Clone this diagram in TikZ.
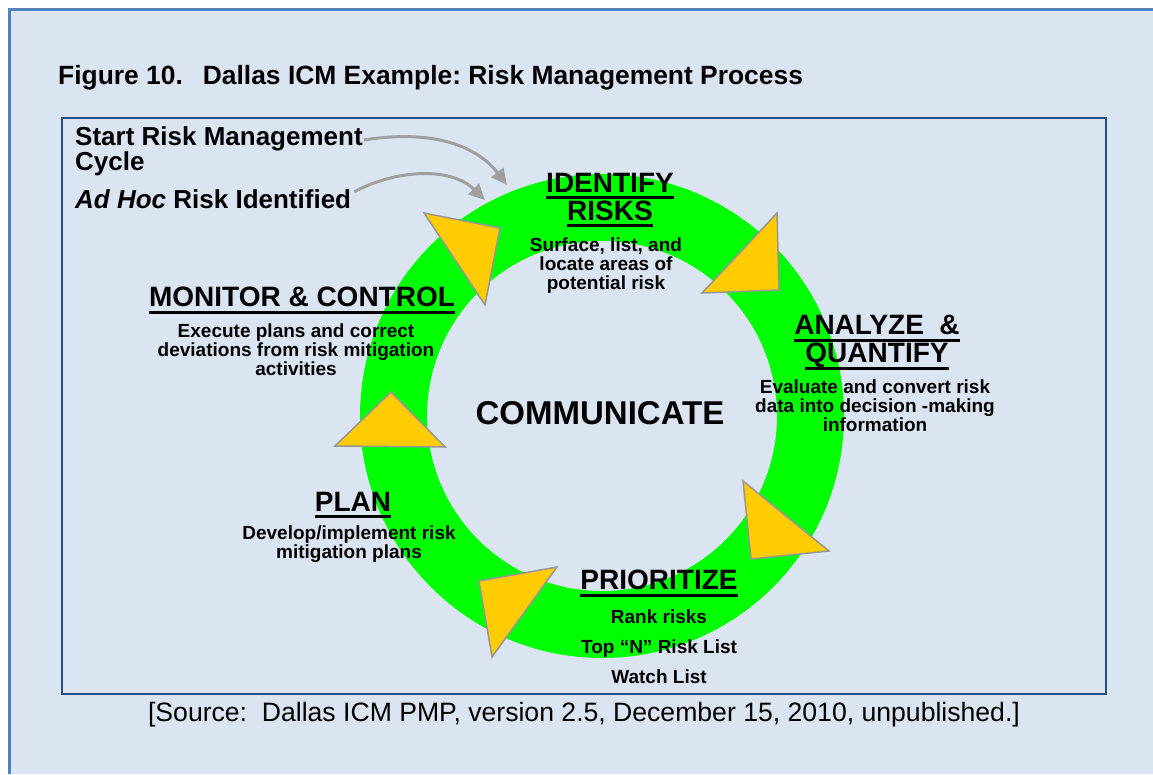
\documentclass[tikz,border=0pt]{standalone}
\usepackage{fontspec}
\setmainfont{Liberation Sans}
\usetikzlibrary{arrows.meta}
\frenchspacing

\definecolor{bgblue}{RGB}{219,229,241}
\definecolor{frameblue}{RGB}{79,129,189}
\definecolor{boxblue}{RGB}{38,79,137}
\definecolor{ringgreen}{RGB}{0,255,0}
\definecolor{triyellow}{RGB}{255,204,0}
\definecolor{tridraw}{RGB}{150,150,150}
\definecolor{feedgray}{RGB}{160,160,160}

\newcommand{\ulhead}[1]{\leavevmode\setbox0\hbox{#1}\rlap{\vrule height -4pt depth 7pt width \wd0}\box0}

\tikzset{
    head/.style={font=\bfseries\fontsize{28}{28}\selectfont, align=center, inner sep=0pt, anchor=north},
    desc/.style={font=\bfseries\fontsize{19}{19}\selectfont, align=center, inner sep=0pt, anchor=north},
    tri/.style={fill=triyellow, draw=tridraw, line width=1.5pt},
    feed/.style={draw=feedgray, line width=3pt, -{Triangle[length=16pt,width=15pt]}},
}

\begin{document}
\begin{tikzpicture}[x=1pt, y=-1pt]
        \useasboundingbox (0,0) rectangle (1153,774);
        \fill[white] (0,0) rectangle (1153,774);
        \fill[bgblue] (9,9) rectangle (1153,774);
        \draw[frameblue, line width=3pt] (9.5,774) -- (9.5,9.5) -- (1153,9.5);
        \draw[boxblue, line width=2.5pt] (62,118) rectangle (1106,694);

        \node[anchor=north west, inner sep=0pt, font=\bfseries\fontsize{26.4}{26}\selectfont] (title) at (58,65)
            {Figure 10.\hspace{20pt}Dallas ICM Example: Risk Management Process};

        \coordinate (hub) at (602,416);
        \fill[ringgreen, even odd rule] (hub) circle (242pt) (hub) circle (175pt);

        \filldraw[tri] (424,213) -- (500,228) -- (485,305) -- cycle;
        \filldraw[tri] (777,213) -- (779,290) -- (702,293) -- cycle;
        \filldraw[tri] (743,481) -- (829,551) -- (751,559) -- cycle;
        \filldraw[tri] (479,581) -- (557,567) -- (492,657) -- cycle;
        \filldraw[tri] (391,392) -- (445,447) -- (335,446) -- cycle;

        \node[head] (identify) at (610,173) {\ulhead{IDENTIFY}\\\ulhead{RISKS}};
        \node[desc] (identifytxt) at (606,238) {Surface, list, and\\locate areas of\\potential risk};

        \node[head] (analyze) at (877,315) {\ulhead{ANALYZE \ \&}\\\ulhead{QUANTIFY}};
        \node[desc] (analyzetxt) at (875,380) {Evaluate and convert risk\\data into decision -making\\information};

        \node[head] (prioritize) at (659,570) {\ulhead{PRIORITIZE}};
        \node[desc, font=\bfseries\fontsize{19}{30}\selectfont] (prioritizetxt) at (659,610)
            {Rank risks\\Top ``N'' Risk List\\Watch List};

        \node[head] (plan) at (353,492) {\ulhead{PLAN}};
        \node[desc] (plantxt) at (349,526) {Develop/implement risk\\mitigation plans};

        \node[head] (monitor) at (302,287) {\ulhead{MONITOR \& CONTROL}};
        \node[desc] (monitortxt) at (296,324) {Execute plans and correct\\deviations from risk mitigation\\activities};

        \node[font=\bfseries\fontsize{33}{33}\selectfont, inner sep=0pt] (communicate) at (600,413) {COMMUNICATE};

        \node[anchor=north west, inner sep=0pt, align=left, font=\bfseries\fontsize{26}{22}\selectfont] (startcyc) at (75,126)
            {Start Risk Management\\Cycle};
        \node[anchor=north west, inner sep=0pt, font=\bfseries\fontsize{26}{26}\selectfont] (adhoc) at (75,189)
            {\textit{Ad Hoc} Risk Identified};

        \coordinate (starttip) at (507,185);
        \coordinate (adhoctip) at (485,200);
        \draw[feed] ([yshift=11pt, xshift=1pt]startcyc.east) .. controls (440,128) and (480,150) .. (starttip);
        \draw[feed] ([yshift=7pt, xshift=3pt]adhoc.east) .. controls (395,170) and (450,166) .. (adhoctip);

        \node[anchor=north, inner sep=0pt, font=\fontsize{26.6}{26}\selectfont] (source) at (584,702)
            {[Source:\ \ Dallas ICM PMP, version 2.5, December 15, 2010, unpublished.]};
    \end{tikzpicture}
\end{document}
